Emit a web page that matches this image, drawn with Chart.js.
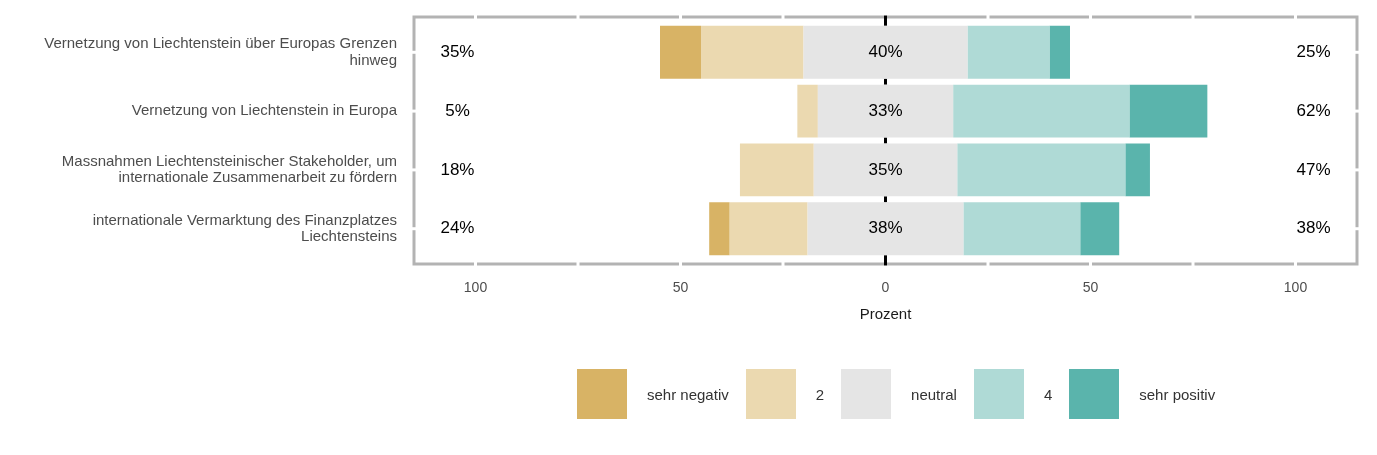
<!DOCTYPE html>
<html lang="de">
<head>
<meta charset="UTF-8">
<title>Vernetzung Liechtenstein</title>
<script src="https://cdn.jsdelivr.net/npm/chart.js"></script>
<style>
  body { margin: 0; background: #fff; font-family: "Liberation Sans", Arial, sans-serif; }
  #wrap { position: relative; width: 1377px; height: 455px; }
  #legend { position: absolute; left: 577px; top: 369px; display: flex; align-items: center; }
  .box { width: 50px; height: 50px; margin-right: 20px; }
  .lbl { font-size: 15px; color: #333; margin-right: 17px; }
</style>
</head>
<body>
<div id="wrap">
  <canvas id="chart"></canvas>
  <div id="legend"></div>
</div>
<script>
// Kategorien (y-Achse), von oben nach unten
const categories = [
  ['Vernetzung von Liechtenstein über Europas Grenzen', 'hinweg'],
  ['Vernetzung von Liechtenstein in Europa'],
  ['Massnahmen Liechtensteinischer Stakeholder, um', 'internationale Zusammenarbeit zu fördern'],
  ['internationale Vermarktung des Finanzplatzes', 'Liechtensteins']
];
const levels = ['sehr negativ', '2', 'neutral', '4', 'sehr positiv'];

// Anteile in Prozent
const sehrNegativ = [10, 0, 0, 5];
const stufe2 = [25, 5, 18, 19];
const neutral = [40, 33, 35, 38];
const stufe4 = [20, 43, 41, 28.5];
const sehrPositiv = [5, 19, 6, 9.5];

// x-Achse: Hilfslinien alle 25, beschriftet alle 50
const xTicks = [-100, -75, -50, -25, 0, 25, 50, 75, 100];
const xLabelled = [-100, -50, 0, 50, 100];

const colors = ['#D8B365', '#EBD9B0', '#E5E5E5', '#AFDAD6', '#5AB4AC'];
const FONT = '"Liberation Sans", Arial, sans-serif';

function pts(values, sign) {
  return values.map((v, i) => ({ x: sign * v, y: i }));
}

const datasets = [
  { label: 'neutral', data: pts(neutral.map(v => v / 2), -1), backgroundColor: colors[2] },
  { label: '2', data: pts(stufe2, -1), backgroundColor: colors[1] },
  { label: 'sehr negativ', data: pts(sehrNegativ, -1), backgroundColor: colors[0] },
  { label: 'neutral', data: pts(neutral.map(v => v / 2), 1), backgroundColor: colors[2] },
  { label: '4', data: pts(stufe4, 1), backgroundColor: colors[3] },
  { label: 'sehr positiv', data: pts(sehrPositiv, 1), backgroundColor: colors[4] }
];

// Rahmen mit weissen Lücken und schwarze Nulllinie
const panelPlugin = {
  id: 'panel',
  beforeDatasetsDraw(chart) {
    const { ctx, chartArea: a, scales: { x, y } } = chart;
    ctx.save();
    ctx.strokeStyle = '#B3B3B3';
    ctx.lineWidth = 3;
    ctx.strokeRect(a.left, a.top, a.right - a.left, a.bottom - a.top);
    ctx.fillStyle = '#fff';
    xTicks.forEach(t => {
      const px = x.getPixelForValue(t);
      ctx.fillRect(px - 1.5, a.top - 3, 3, 6);
      ctx.fillRect(px - 1.5, a.bottom - 3, 3, 6);
    });
    categories.forEach((c, i) => {
      const py = y.getPixelForValue(i);
      ctx.fillRect(a.left - 3, py - 1.5, 6, 3);
      ctx.fillRect(a.right - 3, py - 1.5, 6, 3);
    });
    const zx = x.getPixelForValue(0);
    ctx.strokeStyle = '#000';
    ctx.beginPath();
    ctx.moveTo(zx, a.top - 1.5);
    ctx.lineTo(zx, a.bottom + 1.5);
    ctx.stroke();
    ctx.restore();
  }
};

// Prozentangaben links, mitte, rechts (und Naht der Neutral-Hälften schliessen)
const pctPlugin = {
  id: 'pct',
  afterDatasetsDraw(chart) {
    const { ctx, scales: { x, y } } = chart;
    const zx = x.getPixelForValue(0);
    ctx.save();
    ctx.fillStyle = colors[2];
    chart.getDatasetMeta(0).data.forEach(el => {
      ctx.fillRect(zx - 3, el.y - el.height / 2, 6, el.height);
    });
    ctx.font = '17px ' + FONT;
    ctx.fillStyle = '#000';
    ctx.textAlign = 'center';
    ctx.textBaseline = 'middle';
    categories.forEach((c, i) => {
      const py = y.getPixelForValue(i);
      const left = Math.round(sehrNegativ[i] + stufe2[i]);
      const right = Math.round(stufe4[i] + sehrPositiv[i]);
      ctx.fillText(left + '%', x.getPixelForValue(-104.4), py);
      ctx.fillText(Math.round(neutral[i]) + '%', zx, py);
      ctx.fillText(right + '%', x.getPixelForValue(104.4), py);
    });
    ctx.restore();
  }
};

new Chart(document.getElementById('chart'), {
  type: 'bar',
  data: { datasets },
  options: {
    indexAxis: 'y',
    responsive: true,
    maintainAspectRatio: false,
    animation: false,
    layout: { padding: { top: 17, right: 20, bottom: 131, left: 0 } },
    datasets: { bar: { barPercentage: 0.9, categoryPercentage: 1, borderWidth: 0 } },
    plugins: { legend: { display: false }, tooltip: { enabled: false } },
    scales: {
      x: {
        type: 'linear',
        stacked: true,
        min: -115,
        max: 115,
        afterBuildTicks: s => { s.ticks = xTicks.map(v => ({ value: v })); },
        afterFit: s => { s.height = 60; s.paddingLeft = 0; s.paddingRight = 0; },
        grid: { display: false, drawTicks: false },
        border: { display: false },
        ticks: {
          padding: 16,
          color: '#4D4D4D',
          font: { size: 14, family: FONT },
          callback: v => xLabelled.includes(v) ? String(Math.abs(v)) : ''
        },
        title: {
          display: true,
          text: 'Prozent',
          color: '#1A1A1A',
          padding: { top: 4, bottom: 0 },
          font: { size: 15, family: FONT }
        }
      },
      y: {
        type: 'linear',
        stacked: true,
        reverse: true,
        offset: false,
        min: -0.6,
        max: 3.6,
        afterBuildTicks: s => { s.ticks = categories.map((c, i) => ({ value: i })); },
        afterFit: s => { s.width = 414; s.paddingTop = 0; s.paddingBottom = 0; },
        grid: { display: false, drawTicks: false, offset: false },
        border: { display: false },
        ticks: {
          padding: 17,
          color: '#4D4D4D',
          font: { size: 15, family: FONT, lineHeight: 1.1 },
          callback: v => categories[v]
        }
      }
    }
  },
  plugins: [panelPlugin, pctPlugin]
});

// Legende
const legend = document.getElementById('legend');
levels.forEach((name, i) => {
  const b = document.createElement('div');
  b.className = 'box';
  b.style.background = colors[i];
  const t = document.createElement('span');
  t.className = 'lbl';
  t.textContent = name;
  legend.appendChild(b);
  legend.appendChild(t);
});
</script>
</body>
</html>
